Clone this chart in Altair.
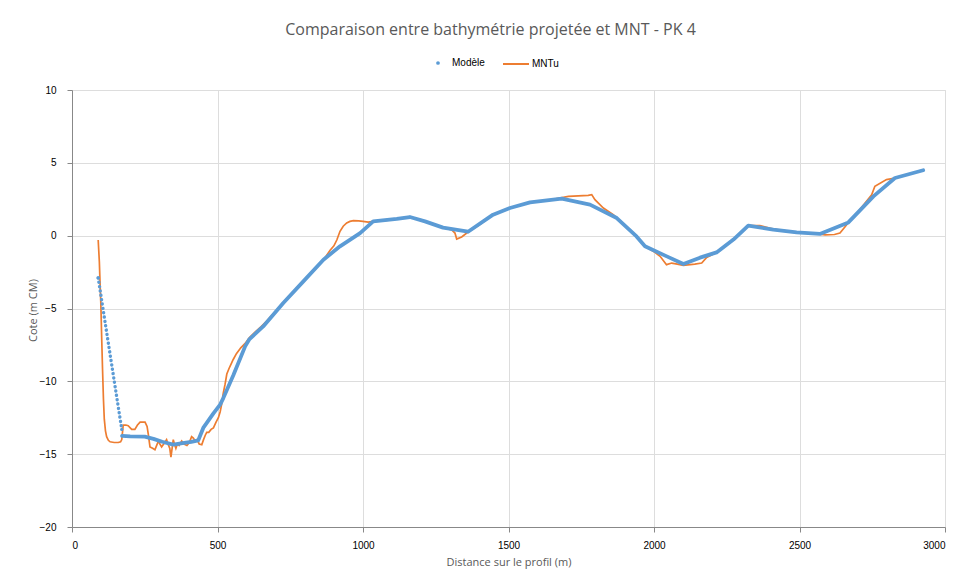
import altair as alt
import pandas as pd

# ---- data ----
modele_x = [90, 171, 172, 200, 250, 280, 310, 348, 380, 410, 434, 451, 486, 509, 520, 554, 595,
            610, 657, 726, 795, 864, 921, 990, 1035, 1116, 1161, 1213, 1275, 1361, 1447, 1505,
            1574, 1683, 1780, 1872, 1940, 1969, 2044, 2101, 2158, 2215, 2273, 2324, 2410, 2490,
            2570, 2668, 2754, 2828, 2925]
modele_y = [-2.9, -13.3, -13.75, -13.78, -13.8, -13.95, -14.15, -14.35, -14.25, -14.15, -14.05,
            -13.2, -12.2, -11.6, -11.15, -9.6, -7.6, -7.1, -6.23, -4.62, -3.14, -1.65, -0.73,
            0.18, 0.98, 1.15, 1.28, 0.98, 0.55, 0.27, 1.44, 1.9, 2.29, 2.54, 2.13, 1.21, -0.05,
            -0.73, -1.42, -1.95, -1.51, -1.15, -0.27, 0.69, 0.41, 0.23, 0.12, 0.91, 2.7, 3.96, 4.49]

mntu_x = [90, 94, 97, 99, 102, 105, 108, 111, 115, 119, 125, 131, 145, 159, 167, 171, 174, 176,
          185, 193, 205, 216, 225, 234, 251, 258, 262, 268, 277, 285, 291, 297, 302, 308, 315,
          325, 330, 336, 340, 344, 348, 352, 357, 362, 368, 377, 385, 395, 403, 411, 417, 423,
          430, 437, 446, 452, 458, 463, 470, 478, 486, 495, 503, 509, 514, 520, 526, 532, 540,
          547, 554, 565, 580, 595, 610, 630, 650, 670, 690, 710, 730, 750, 770, 790, 810, 830,
          850, 870, 887, 900, 910, 921, 932, 944, 955, 967, 985, 1000, 1018, 1035, 1080, 1116,
          1161, 1213, 1275, 1305, 1316, 1322, 1339, 1361, 1400, 1447, 1505, 1574, 1640, 1706,
          1774, 1786, 1797, 1826, 1860, 1873, 1940, 1969, 2000, 2021, 2043, 2061, 2080, 2101,
          2140, 2164, 2181, 2215, 2273, 2324, 2364, 2410, 2490, 2570, 2588, 2620, 2639, 2656,
          2668, 2700, 2748, 2759, 2799, 2828, 2925]
mntu_y = [-0.3, -1.8, -3.6, -4.6, -7.0, -9.2, -11.2, -12.6, -13.4, -13.8, -14.05, -14.15, -14.2,
          -14.2, -14.15, -14.0, -13.4, -13.0, -13.0, -13.05, -13.3, -13.3, -13.0, -12.8, -12.8,
          -13.1, -13.6, -14.5, -14.6, -14.7, -14.4, -14.1, -14.3, -14.5, -14.3, -14.0, -14.3,
          -14.6, -15.2, -14.6, -14.0, -14.3, -14.6, -14.3, -14.4, -14.1, -14.3, -14.4, -14.2,
          -13.8, -13.9, -14.1, -14.0, -14.3, -14.35, -14.0, -13.7, -13.5, -13.5, -13.3, -13.2,
          -12.8, -12.5, -12.1, -11.6, -10.8, -10.2, -9.5, -9.1, -8.8, -8.5, -8.1, -7.7, -7.4,
          -7.0, -6.6, -6.25, -5.85, -5.4, -5.0, -4.55, -4.1, -3.65, -3.2, -2.8, -2.35, -1.95,
          -1.5, -1.0, -0.7, -0.3, 0.3, 0.65, 0.87, 0.98, 1.03, 1.02, 0.98, 0.93, 0.98, 1.05,
          1.15, 1.27, 0.98, 0.55, 0.4, 0.18, -0.23, -0.09, 0.25, 0.75, 1.44, 1.9, 2.29, 2.45,
          2.7, 2.77, 2.82, 2.47, 1.9, 1.44, 1.21, -0.05, -0.73, -1.1, -1.42, -1.99, -1.88,
          -1.95, -2.04, -1.95, -1.88, -1.49, -1.15, -0.27, 0.69, 0.69, 0.45, 0.23, 0.1, 0.05,
          0.08, 0.18, 0.6, 0.91, 1.6, 2.8, 3.39, 3.85, 3.96, 4.49]

x_ticks = [0, 500, 1000, 1500, 2000, 2500, 3000]
y_ticks = [-20, -15, -10, -5, 0, 5, 10]

BLUE = "#5B9BD5"
ORANGE = "#ED7D31"
GREY = "#595959"
GRID = "#D9D9D9"
FONT = "Open Sans"
AXFONT = "Liberation Sans Narrow, DejaVu Sans Condensed, Open Sans"

modele = pd.DataFrame({"x": modele_x, "y": modele_y, "serie": "Modèle"})
mntu = pd.DataFrame({"x": mntu_x, "y": mntu_y, "serie": "MNTu"})

xenc = alt.X("x:Q", scale=alt.Scale(domain=[0, 3000], nice=False),
             axis=alt.Axis(values=x_ticks, format="d", title="Distance sur le profil (m)",
                           titleY=35, titleBaseline="middle", labelPadding=8,
                           titleFontWeight="normal", titleFont=FONT, titleFontSize=11,
                           titleColor=GREY))
yenc = alt.Y("y:Q", scale=alt.Scale(domain=[-20, 10], nice=False),
             axis=alt.Axis(values=y_ticks, format="d", title="Cote (m CM)", titleX=-39,
                           titleY=220, titleAngle=270, titleBaseline="middle",
                           labelPadding=11, titleFontWeight="normal", titleFont=FONT,
                           titleFontSize=11, titleColor=GREY))

orange_line = alt.Chart(mntu).mark_line(strokeWidth=1.7, interpolate="linear").encode(
    x=xenc, y=yenc,
    color=alt.Color("serie:N", scale=alt.Scale(domain=["MNTu"], range=[ORANGE]),
                    legend=alt.Legend(orient="none", legendX=430, legendY=-40, title=None,
                                      symbolSize=676, symbolStrokeWidth=2, labelOffset=2,
                                      padding=0)),
)

blue_solid = alt.Chart(modele).transform_filter(alt.datum.x >= 172).mark_line(
    strokeWidth=3.8, color=BLUE, strokeCap="round", strokeJoin="round"
).encode(x="x:Q", y="y:Q")

blue_dots_line = alt.Chart(modele).transform_filter(alt.datum.x <= 171).mark_line(
    strokeWidth=3.4, color=BLUE, strokeCap="round", strokeDash=[0.1, 4.3]
).encode(x="x:Q", y="y:Q")

blue_pts = alt.Chart(modele).transform_filter(alt.datum.x <= 171).mark_point(
    filled=True, size=11, opacity=1
).encode(
    x="x:Q", y="y:Q",
    color=alt.Color("serie:N", scale=alt.Scale(domain=["Modèle"], range=[BLUE]),
                    legend=alt.Legend(orient="none", legendX=361, legendY=-32, title=None,
                                      symbolType="circle", symbolSize=14, labelOffset=9,
                                      padding=0)),
)

chart = alt.layer(orange_line, blue_dots_line, blue_solid, blue_pts).resolve_scale(
    color="independent"
).properties(
    width=873, height=437,
    autosize=alt.AutoSizeParams(type="none"),
    padding={"left": 64, "top": 82, "right": 9, "bottom": 48},
    title=alt.Title("Comparaison entre bathymétrie projetée et MNT - PK 4", fontSize=16,
                    font=FONT, fontWeight="normal", color=GREY, anchor="middle", dx=-18,
                    dy=22, baseline="middle", offset=26),
).configure_view(stroke=None).configure_axis(
    grid=True, gridColor=GRID, gridWidth=1, domain=False, ticks=False,
    labelFont=AXFONT, labelFontSize=11.5, labelColor=GREY,
).configure_legend(
    labelFont=FONT, labelFontSize=11, labelColor=GREY, labelFontWeight="normal",
).configure(background="white")

chart.save("out.html", embed_options={"renderer": "svg", "actions": False})
